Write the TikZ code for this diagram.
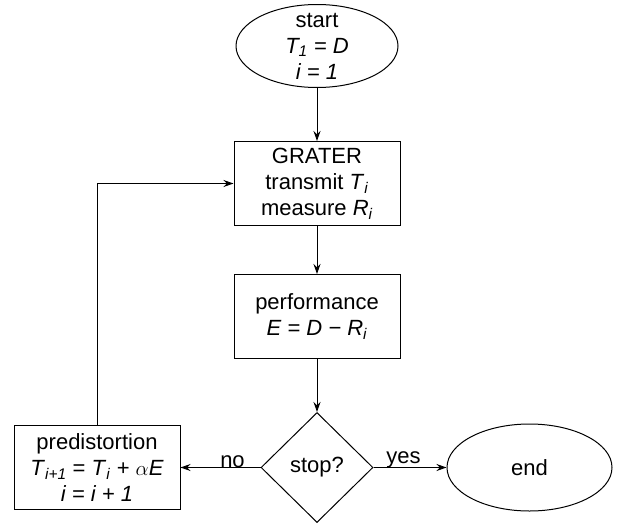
\documentclass[tikz,border=0pt]{standalone}
\usepackage{fontspec}
\setmainfont{Liberation Sans}
\usepackage{tikz}
\usetikzlibrary{shapes.geometric,positioning,arrows.meta}

\newcommand{\vr}[1]{\textit{#1}}
\newcommand{\sbs}[1]{\textsubscript{\textit{#1}}}

\begin{document}
\begin{tikzpicture}[>={Stealth[length=10pt,width=7pt]},line width=1pt,
    font=\fontsize{22}{26}\selectfont,
    term/.style={ellipse,draw,align=center,inner sep=-10pt},
    proc/.style={rectangle,draw,align=center,minimum width=166pt,minimum height=84pt,inner sep=2pt},
    decide/.style={diamond,draw,minimum width=112pt,minimum height=110pt,inner sep=0pt}]
  \useasboundingbox (0pt,0pt) rectangle (618pt,-522pt);
  \node[term,minimum width=162pt,minimum height=83pt] (start) at (317pt,-46pt)
    {start\\ \vr{T\sbs{1} = D}\\ \vr{i = 1}};
  \node[proc,below=53pt of start] (grater)
    {GRATER\\ transmit \vr{T}\sbs{i}\\ measure \vr{R}\sbs{i}};
  \node[proc,below=48pt of grater] (perf)
    {performance\\ \vr{E = D − R}\sbs{i}};
  \node[decide,below=53pt of perf] (stop) {stop?};
  \node[term,minimum width=165pt,minimum height=87pt,right=73pt of stop] (end) {end};
  \node[proc,left=80pt of stop] (pred)
    {predistortion\\ \vr{T}\sbs{i+1} = \vr{T}\sbs{i} + $\alpha$\vr{E}\\ \vr{i = i + 1}};
  \path[->]
    (start) edge (grater)
    (grater) edge (perf)
    (perf) edge (stop)
    (stop.east) edge node[pos=0.41,above=-4pt] {yes} (end)
    (stop.west) edge node[pos=0.35,above=-4pt] {no} (pred);
  \draw[->] (pred.north) |- (grater.west);
\end{tikzpicture}
\end{document}
